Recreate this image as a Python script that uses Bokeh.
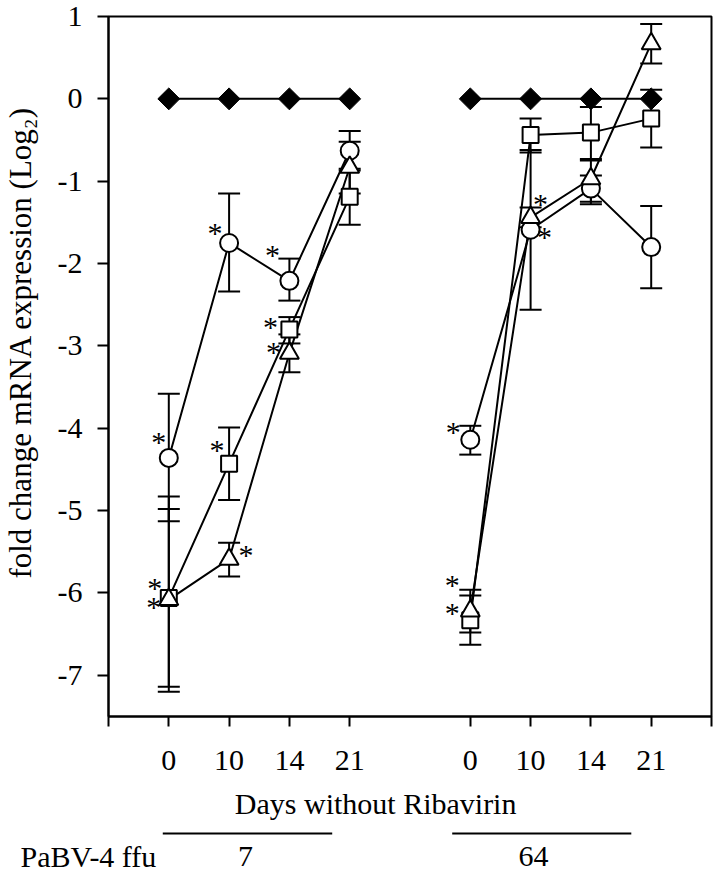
import math
from bokeh.plotting import figure
from bokeh.layouts import column, row
from bokeh.models import Range1d, FixedTicker, Label
from bokeh.core.properties import value
from bokeh.embed import file_html
from bokeh.resources import INLINE

# ---------------- data ----------------
days = ["0", "10", "14", "21"]
ffu_groups = ["7", "64"]
y_ticks = [-7, -6, -5, -4, -3, -2, -1, 0, 1]

control_mean = [[0.0, 0.0, 0.0, 0.0], [0.0, 0.0, 0.0, 0.0]]

circle_mean = [[-4.36, -1.75, -2.21, -0.63], [-4.14, -1.59, -1.09, -1.80]]
circle_lo = [[-5.13, -2.34, -2.45, -0.87], [-4.32, -2.56, -1.25, -2.30]]
circle_hi = [[-3.58, -1.15, -1.94, -0.39], [-3.97, -0.62, -0.93, -1.30]]

square_mean = [[-6.06, -4.43, -2.80, -1.19], [-6.33, -0.44, -0.41, -0.24]]
square_lo = [[-7.14, -4.87, -2.97, -1.53], [-6.63, -0.65, -0.75, -0.59]]
square_hi = [[-4.98, -3.99, -2.65, -0.85], [-6.03, -0.24, -0.10, 0.11]]

triangle_mean = [[-6.08, -5.59, -3.09, -0.83], [-6.22, -1.44, -0.97, 0.67]]
triangle_lo = [[-7.20, -5.80, -3.32, -1.15], [-6.48, -1.56, -1.28, 0.43]]
triangle_hi = [[-4.83, -5.39, -2.86, -0.52], [-5.96, -1.32, -0.73, 0.91]]

# significant points: (series, group, day index)
significant = [
    ("circle", 0, 0), ("circle", 0, 1), ("circle", 0, 2),
    ("square", 0, 0), ("square", 0, 1), ("square", 0, 2),
    ("triangle", 0, 0), ("triangle", 0, 1), ("triangle", 0, 2),
    ("circle", 1, 0), ("square", 1, 0), ("triangle", 1, 0),
    ("circle", 1, 1), ("triangle", 1, 1),
]

x_title = "Days without Ribavirin"
y_title = "fold change mRNA expression (Log\u2082)"
ffu_title = "PaBV-4 ffu"

# ---------------- layout / style ----------------
FONT = "Liberation Serif"
LW = 2
TOTAL_W = 714
YL_W = 40                  # strip holding the y title
MAIN_W = TOTAL_W - YL_W
BORDER_L = 108 - YL_W      # frame left edge at page x = 108
BORDER_R = 3
BORDER_T = 16
FRAME_H = 700
BORDER_B = 70
MAIN_H = BORDER_T + FRAME_H + BORDER_B
BOT_H = 87
Y0, Y1 = -7.5, 1.0
X0, X1 = 0.0, 10.0
FRAME_W = MAIN_W - BORDER_L - BORDER_R
sx = FRAME_W / (X1 - X0)   # px per x unit
sy = FRAME_H / (Y1 - Y0)   # px per y unit

# screen offsets (px) of each asterisk from its marker centre (dx right, dy down)
star_offsets = {
    ("circle", 0, 0): (-10, -16), ("circle", 0, 1): (-14, -10), ("circle", 0, 2): (-17, -26),
    ("square", 0, 0): (-14, -10), ("square", 0, 1): (-12, -14), ("square", 0, 2): (-19, -3),
    ("triangle", 0, 0): (-15, 7), ("triangle", 0, 1): (17, -5), ("triangle", 0, 2): (-16, -2),
    ("circle", 1, 0): (-17, -8), ("square", 1, 0): (-18, -36), ("triangle", 1, 0): (-18, 1),
    ("circle", 1, 1): (14, 7), ("triangle", 1, 1): (10, -14),
}


def xpos(g, i):
    return g * (len(days) + 1) + i + 1


p = figure(width=MAIN_W, height=MAIN_H, output_backend="svg", toolbar_location=None,
           x_range=Range1d(X0, X1), y_range=Range1d(Y0, Y1),
           min_border_left=BORDER_L, min_border_right=BORDER_R, min_border_top=BORDER_T,
           min_border_bottom=BORDER_B)
p.grid.visible = False
p.background_fill_color = "white"
p.border_fill_color = "white"
p.outline_line_color = "black"
p.outline_line_width = LW

for ax in (p.xaxis[0], p.yaxis[0]):
    ax.axis_line_width = LW
    ax.axis_line_color = "black"
    ax.major_tick_line_width = LW
    ax.major_tick_line_color = "black"
    ax.minor_tick_line_color = None
    ax.major_tick_in = 0
    ax.major_label_text_font = FONT
    ax.major_label_text_font_size = "30px"
    ax.major_label_text_color = "black"

p.yaxis.ticker = FixedTicker(ticks=y_ticks)
p.yaxis.major_label_overrides = {t: str(t) for t in y_ticks}
p.yaxis.major_tick_out = 11
p.yaxis.major_label_standoff = 15

xt = [X0] + [xpos(g, i) for g in range(2) for i in range(len(days))] + [X1]
p.xaxis.ticker = FixedTicker(ticks=xt)
overrides = {X0: "", X1: ""}
for g in range(2):
    for i, d in enumerate(days):
        overrides[xpos(g, i)] = d
p.xaxis.major_label_overrides = overrides
p.xaxis.major_tick_out = 10
p.xaxis.major_label_standoff = 24

series = {
    "circle": (circle_mean, circle_lo, circle_hi, dict(marker="circle", size=18)),
    "square": (square_mean, square_lo, square_hi, dict(marker="square", size=16)),
    "triangle": (triangle_mean, triangle_lo, triangle_hi, dict(marker="triangle", size=19)),
}

for g in range(2):
    xs = [xpos(g, i) for i in range(len(days))]
    p.line(xs, control_mean[g], line_color="black", line_width=LW)
    for name, (m, lo, hi, st) in series.items():
        p.line(xs, m[g], line_color="black", line_width=LW)

for g in range(2):
    xs = [xpos(g, i) for i in range(len(days))]
    for name, (m, lo, hi, st) in series.items():
        p.segment(xs, lo[g], xs, hi[g], line_color="black", line_width=LW)
        p.scatter(xs, lo[g], marker="dash", size=22, line_color="black", line_width=LW)
        p.scatter(xs, hi[g], marker="dash", size=22, line_color="black", line_width=LW)

for g in range(2):
    xs = [xpos(g, i) for i in range(len(days))]
    p.scatter(xs, control_mean[g], marker="square", size=15.5, angle=math.pi / 4,
              fill_color="black", line_color="black", line_width=1)
    for name, (m, lo, hi, st) in series.items():
        p.scatter(xs, m[g], marker=st["marker"], size=st["size"], fill_color="white",
                  line_color="black", line_width=LW)

means = {"circle": circle_mean, "square": square_mean, "triangle": triangle_mean}
for key in significant:
    name, g, i = key
    dx, dy = star_offsets[key]
    p.add_layout(Label(x=xpos(g, i), y=means[name][g][i], x_offset=dx, y_offset=-dy,
                       text="*", text_font=FONT, text_font_size="30px",
                       text_align="center", text_baseline="middle", text_color="black"))


def helper(width, height, xr, yr):
    f = figure(width=width, height=height, output_backend="svg", toolbar_location=None,
               x_range=xr, y_range=yr, min_border=0)
    f.axis.visible = False
    f.grid.visible = False
    f.outline_line_color = None
    f.background_fill_color = "white"
    f.border_fill_color = "white"
    return f


# y-title strip, same y scale as the main chart
yl = helper(YL_W, MAIN_H, Range1d(0, 1),
            Range1d(Y0 - BORDER_B / sy, Y1 + BORDER_T / sy))
yl.text(x=[0.5], y=[(Y0 + Y1) / 2], text=[y_title], angle=math.pi / 2, text_font=value(FONT),
        text_font_size="31px", text_align="center", text_baseline="middle", text_color="black")

# bottom strip, same x scale as the main chart
x_left = X0 - 108 / sx
x_right = x_left + TOTAL_W / sx
bot_top = Y0 - BORDER_B / sy
bot = helper(TOTAL_W, BOT_H, Range1d(x_left, x_right), Range1d(bot_top - BOT_H / sy, bot_top))
bot.text(x=[4.43], y=[-8.56], text=[x_title], text_font=value(FONT), text_font_size="30px",
         text_align="center", text_baseline="middle", text_color="black")
bot.text(x=[-1.46], y=[-9.2], text=[ffu_title], text_font=value(FONT), text_font_size="30px",
         text_align="left", text_baseline="middle", text_color="black")
ffu_x = [2.27, 7.05]
bar_x0 = [0.9, 5.70]
bar_x1 = [3.71, 8.67]
bot.text(x=ffu_x, y=[-9.2] * 2, text=ffu_groups, text_font=value(FONT), text_font_size="30px",
         text_align="center", text_baseline="middle", text_color="black")
bot.segment(bar_x0, [-8.92] * 2, bar_x1, [-8.92] * 2, line_color="black", line_width=LW)

layout = column(row(yl, p, spacing=0), bot, spacing=0)
open("out.html", "w").write(file_html(layout, INLINE))
